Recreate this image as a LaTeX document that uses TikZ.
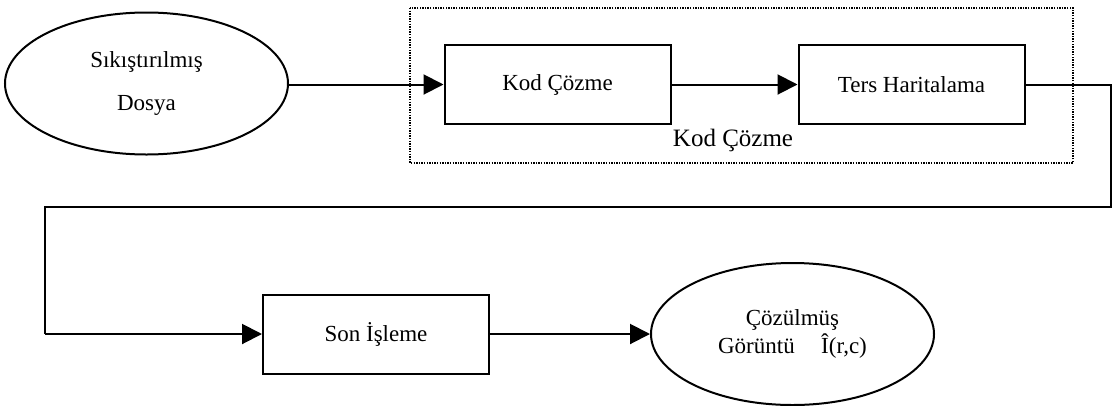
\documentclass[tikz,border=0pt]{standalone}
\usepackage{fontspec}
\setmainfont{Liberation Serif}
\usetikzlibrary{shapes.geometric,arrows.meta}

\tikzset{
  flow/.style={line width=2pt, -{Triangle[length=20pt,width=20pt]}},
  link/.style={line width=2pt},
  stagebox/.style={draw, line width=2pt, minimum width=226pt, minimum height=79pt,
    inner sep=0pt, font=\fontsize{23}{28}\selectfont},
  endpoint/.style={draw, ellipse, line width=2pt, minimum width=283pt,
    minimum height=142pt, inner sep=0pt, align=center},
  groupframe/.style={draw, line width=1.4pt, dash pattern=on 1.4pt off 1.2pt}
}

\begin{document}
\begin{tikzpicture}[x=1pt,y=-1pt]
  \useasboundingbox (0,0) rectangle (1113,405);

  % decoding group frame
  \draw[groupframe] (410,8) rectangle (1073,163);
  \node[font=\fontsize{25}{30}\selectfont] (grouplabel) at (733,140) {Kod Çözme};

  % blocks
  \node[endpoint, font=\fontsize{23}{43}\selectfont] (src) at (146.5,83.5)
    {Sıkıştırılmış\\Dosya};
  \node[stagebox] (dec) at (557.5,84.5) {Kod Çözme};
  \node[stagebox] (imap) at (911.5,84.5) {Ters Haritalama};
  \node[stagebox] (post) at (376,334) {Son İşleme};
  \node[endpoint, font=\fontsize{23}{28}\selectfont] (out) at (792.5,334)
    {Çözülmüş\\Görüntü\hspace{0.9em} Î(r,c)};

  % return path corners
  \coordinate (r1) at (1111,84.5);
  \coordinate (r2) at (1111,207);
  \coordinate (r3) at (45,207);
  \coordinate (r4) at (45,334);

  % connectors
  \draw[flow] (src.east |- dec.west) -- (dec.west);
  \draw[flow] (dec.east) -- (imap.west);
  \draw[link, line join=miter] (imap.east) -- (r1) -- (r2) -- (r3) -- (r4);
  \draw[flow] (r4) -- (post.west);
  \draw[flow] (post.east) -- (out.west);
\end{tikzpicture}
\end{document}
